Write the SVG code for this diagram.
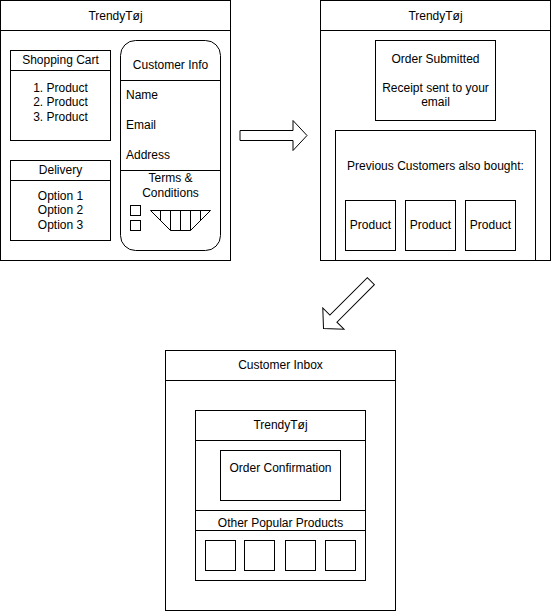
<svg xmlns="http://www.w3.org/2000/svg" width="551" height="611" viewBox="0 0 551 611">
<style>
.b{fill:#fff;stroke:#000;stroke-width:1}
.n{fill:none;stroke:#000;stroke-width:1}
text{font-family:"Liberation Sans",Arial,sans-serif;font-size:12px;fill:#000}
.c{text-anchor:middle}
</style>
<defs>
<polygon id="arr" points="-67,-5 -14,-5 -14,-15 0,0 -14,15 -14,5 -67,5" fill="#fff" stroke="#000" stroke-width="1"/>
</defs>
<rect width="551" height="611" fill="#fff"/>
<g id="page1">
<rect class="b" x="0.5" y="0.5" width="230" height="260"/>
<line class="n" x1="0.5" y1="30.5" x2="230.5" y2="30.5"/>
<text class="c" x="115.5" y="20">TrendyTøj</text>
</g>
<g id="cart">
<rect class="b" x="10.5" y="50.5" width="100" height="90"/>
<line class="n" x1="10.5" y1="70.5" x2="110.5" y2="70.5"/>
<text class="c" x="60.5" y="64">Shopping Cart</text>
<text class="c" x="60.5" y="92">1. Product</text>
<text class="c" x="60.5" y="106">2. Product</text>
<text class="c" x="60.5" y="121">3. Product</text>
</g>
<g id="delivery">
<rect class="b" x="10.5" y="160.5" width="100" height="80"/>
<line class="n" x1="10.5" y1="180.5" x2="110.5" y2="180.5"/>
<text class="c" x="60.5" y="174">Delivery</text>
<text class="c" x="60.5" y="200">Option 1</text>
<text class="c" x="60.5" y="214">Option 2</text>
<text class="c" x="60.5" y="229">Option 3</text>
</g>
<g id="customer-info">
<rect class="b" x="120.5" y="40.5" width="100" height="210" rx="15" ry="15"/>
<line class="n" x1="120.5" y1="80.5" x2="220.5" y2="80.5"/>
<line class="n" x1="120.5" y1="170.5" x2="220.5" y2="170.5"/>
<text class="c" x="170.5" y="69">Customer Info</text>
<text x="126" y="99">Name</text>
<text x="126" y="129">Email</text>
<text x="126" y="159">Address</text>
<text class="c" x="170.5" y="182">Terms &amp;</text>
<text class="c" x="170.5" y="197">Conditions</text>
<rect class="b" x="130.5" y="205.5" width="10" height="10"/>
<rect class="b" x="130.5" y="220.5" width="10" height="10"/>
<polygon class="b" points="150.5,210.5 210.5,210.5 190.5,230.5 170.5,230.5"/>
<path class="n" d="M160.5 210.5V220.5M170.5 210.5V230.5M180.5 210.5V230.5M190.5 210.5V230.5M200.5 210.5V220.5"/>
</g>
<g id="page2">
<rect class="b" x="320.5" y="0.5" width="230" height="260"/>
<line class="n" x1="320.5" y1="30.5" x2="550.5" y2="30.5"/>
<text class="c" x="435.5" y="20">TrendyTøj</text>
</g>
<g id="order-submitted">
<rect class="b" x="375.5" y="40.5" width="120" height="80"/>
<text class="c" x="435.5" y="63">Order Submitted</text>
<text class="c" x="435.5" y="92">Receipt sent to your</text>
<text class="c" x="435.5" y="106">email</text>
</g>
<g id="previous">
<rect class="b" x="335.5" y="130.5" width="200" height="130"/>
<text class="c" x="435.5" y="170">Previous Customers also bought:</text>
<rect class="b" x="345.5" y="200.5" width="50" height="50"/>
<rect class="b" x="405.5" y="200.5" width="50" height="50"/>
<rect class="b" x="465.5" y="200.5" width="50" height="50"/>
<text class="c" x="370.5" y="229">Product</text>
<text class="c" x="430.5" y="229">Product</text>
<text class="c" x="490.5" y="229">Product</text>
</g>
<g id="inbox">
<rect class="b" x="165.5" y="350.5" width="230" height="260"/>
<line class="n" x1="165.5" y1="380.5" x2="395.5" y2="380.5"/>
<text class="c" x="280.5" y="369">Customer Inbox</text>
</g>
<g id="email">
<rect class="b" x="195.5" y="410.5" width="170" height="170"/>
<line class="n" x1="195.5" y1="440.5" x2="365.5" y2="440.5"/>
<line class="n" x1="195.5" y1="510.5" x2="365.5" y2="510.5"/>
<line class="n" x1="195.5" y1="530.5" x2="365.5" y2="530.5"/>
<text class="c" x="280.5" y="429">TrendyTøj</text>
<rect class="b" x="220.5" y="450.5" width="120" height="50"/>
<text class="c" x="280.5" y="472">Order Confirmation</text>
<text class="c" x="280.5" y="527">Other Popular Products</text>
<rect class="b" x="205.5" y="540.5" width="30" height="30"/>
<rect class="b" x="244.5" y="540.5" width="30" height="30"/>
<rect class="b" x="285.5" y="540.5" width="30" height="30"/>
<rect class="b" x="325.5" y="540.5" width="30" height="30"/>
</g>
<g id="connectors">
<use href="#arr" transform="translate(307,135.5)"/>
<use href="#arr" transform="translate(323.5,328.5) rotate(135)"/>
</g>
</svg>
